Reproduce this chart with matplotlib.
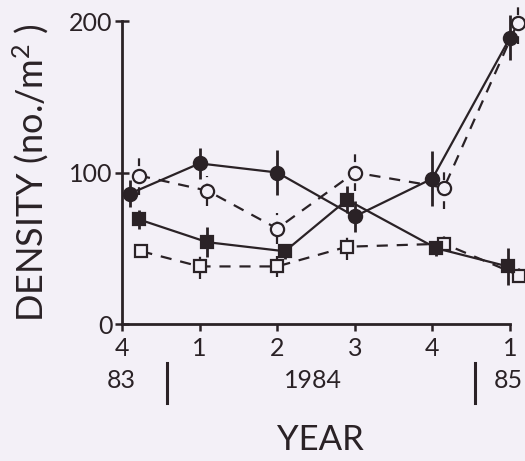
import matplotlib
matplotlib.use('Agg')
import matplotlib.pyplot as plt
from matplotlib.lines import Line2D

plt.rcParams['font.family'] = ['Lato', 'DejaVu Sans']
plt.rcParams['font.weight'] = 'normal'
plt.rcParams['mathtext.fontset'] = 'custom'
plt.rcParams['mathtext.rm'] = 'Lato'
plt.rcParams['mathtext.it'] = 'Lato'

# ---- data ----
quarter_ticks = [0, 1, 2, 3, 4, 5]
quarter_labels = ["4", "1", "2", "3", "4", "1"]
year_labels = ["83", "1984", "85"]
y_ticks = [0, 100, 200]

# filled circles (solid line)
fc_x = [0.10, 1.00, 2.00, 3.00, 4.00, 5.00]
fc_y = [86, 106, 100, 71, 96, 189]
fc_err = [9, 10, 15, 10, 18, 15]

# open circles (dashed line)
oc_x = [0.22, 1.10, 2.00, 3.00, 4.15, 5.10]
oc_y = [98, 88, 63, 100, 90, 199]
oc_err = [13, 10, 10, 12, 14, 14]

# filled squares (solid line)
fs_x = [0.22, 1.10, 2.10, 2.90, 4.05, 4.97]
fs_y = [69, 54, 48, 82, 50, 38]
fs_err = [6, 10, 5, 9, 5, 12]

# open squares (dashed line)
os_x = [0.25, 1.00, 2.00, 2.90, 4.15, 5.12]
os_y = [48, 38, 38, 51, 53, 32]
os_err = [4, 8, 7, 9, 5, 5]

BG = '#f3f0f7'
INK = '#2a2226'

W, H = 525, 461
fig = plt.figure(figsize=(W / 100, H / 100), dpi=100, facecolor=BG)
ax = fig.add_axes([122 / W, 1 - 324 / H, 388 / W, 303 / H], facecolor=BG)

def series(x, y, err, marker, filled, dashed):
    eb = ax.errorbar(x, y, yerr=err, fmt='none', ecolor=INK,
                     elinewidth=2.0 if filled else 1.6, capsize=0, zorder=2)
    for c in eb[2]:
        c.set_clip_on(False)
        if dashed:
            c.set_linestyle((0, (3.5, 3)))
    ls = (0, (5, 4)) if dashed else '-'
    ax.plot(x, y, color=INK, lw=1.6, ls=ls, zorder=3, clip_on=False)
    ax.plot(x, y, ls='none', marker=marker, ms=9.5 if marker == 'o' else 9,
            mfc=INK if filled else BG, mec=INK, mew=1.6, zorder=4,
            clip_on=False)

series(os_x, os_y, os_err, 's', False, True)
series(oc_x, oc_y, oc_err, 'o', False, True)
series(fs_x, fs_y, fs_err, 's', True, False)
series(fc_x, fc_y, fc_err, 'o', True, False)

ax.set_xlim(0, 5)
ax.set_ylim(0, 200)
for s in ['top', 'right']:
    ax.spines[s].set_visible(False)
for s in ['left', 'bottom']:
    ax.spines[s].set_linewidth(2.0)
    ax.spines[s].set_color(INK)

ax.set_xticks(quarter_ticks)
ax.set_xticklabels(quarter_labels)
ax.set_yticks(y_ticks)
ax.set_yticklabels([str(v) for v in y_ticks])
ax.tick_params(axis='y', direction='inout', length=10, width=1.8,
               colors=INK, labelsize=18, pad=2)
ax.tick_params(axis='x', direction='out', length=5, width=1.8,
               colors=INK, labelsize=18, pad=4)

# year row under the quarter labels
fig.text(121 / W, 1 - 381 / H, year_labels[0], ha='center', va='center',
         fontsize=18, color=INK)
fig.text(313 / W, 1 - 381 / H, year_labels[1], ha='center', va='center',
         fontsize=18, color=INK)
fig.text(523 / W, 1 - 381 / H, year_labels[2], ha='right', va='center',
         fontsize=18, color=INK)
for xp in (167, 475):
    fig.add_artist(Line2D([xp / W, xp / W], [1 - 363 / H, 1 - 403 / H],
                          transform=fig.transFigure, color=INK, lw=2.2))

fig.text(320 / W, 1 - 440 / H, 'YEAR', ha='center', va='center',
         fontsize=25, color=INK)
fig.text(31 / W, 1 - 173 / H, 'DENSITY (no./m$^2$ )', ha='center',
         va='center', rotation=90, fontsize=26, color=INK)

fig.savefig('out.png', dpi=100, facecolor=BG)
